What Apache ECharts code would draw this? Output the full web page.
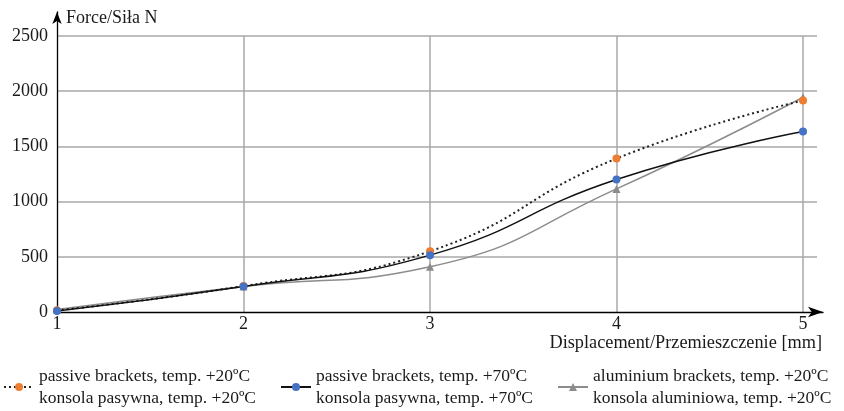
<!DOCTYPE html>
<html><head><meta charset="utf-8">
<script src="https://cdn.jsdelivr.net/npm/echarts@6/dist/echarts.min.js"></script>
<style>html,body{margin:0;padding:0;background:#fff}#c{width:844px;height:411px}</style>
</head><body><div id="c"></div>
<script>
const xValues = [1, 2, 3, 4, 5];
const passive20 = [15, 235, 550, 1390, 1915];
const passive70 = [10, 232, 515, 1200, 1635];
const alu20 = [22, 232, 410, 1115, 1945];
const yTicks = [0, 500, 1000, 1500, 2000, 2500];
const names = [
  'passive brackets, temp. +20ºC\nkonsola pasywna, temp. +20ºC',
  'passive brackets, temp. +70ºC\nkonsola pasywna, temp. +70ºC',
  'aluminium brackets, temp. +20ºC\nkonsola aluminiowa, temp. +20ºC'
];
const FONT = '"Liberation Serif", "DejaVu Serif", serif';
const pairs = a => xValues.map((x, i) => [x, a[i]]);
const chart = echarts.init(document.getElementById('c'));
const legendCommon = {
  orient: 'horizontal', top: 365, padding: 0, itemWidth: 30, itemHeight: 10, itemGap: 0,
  textStyle: {fontFamily: FONT, fontSize: 17.5, color: '#1a1a1a', lineHeight: 22}
};
chart.setOption({
  animation: false,
  textStyle: {fontFamily: FONT},
  title: [
    {text: 'Force/Siła N', left: 61, top: 4, textStyle: {fontFamily: FONT, fontSize: 18, fontWeight: 'normal', color: '#1a1a1a'}},
    {text: 'Displacement/Przemieszczenie [mm]', right: 17, top: 329, textStyle: {fontFamily: FONT, fontSize: 18.3, fontWeight: 'normal', color: '#1a1a1a'}}
  ],
  legend: [
    Object.assign({}, legendCommon, {left: 3, data: [names[0]]}),
    Object.assign({}, legendCommon, {left: 280, data: [names[1]]}),
    Object.assign({}, legendCommon, {left: 557, data: [names[2]]})
  ],
  grid: [
    {left: 57, top: 36, width: 760, height: 276},
    {left: 57, top: 12, width: 766, height: 300}
  ],
  xAxis: [
    {type: 'value', gridIndex: 0, min: 1, max: 1 + 760 / 186.5, interval: 1,
     axisLine: {show: false}, axisTick: {show: false},
     axisLabel: {fontFamily: FONT, fontSize: 18, color: '#1a1a1a', margin: 3, showMaxLabel: false,
       formatter: v => (Math.abs(v - Math.round(v)) < 1e-6 ? String(Math.round(v)) : '')},
     splitLine: {show: true, showMinLine: false, showMaxLine: false, lineStyle: {color: '#a8a8a8', width: 1.5}}},
    {type: 'value', gridIndex: 1, min: 0, max: 1,
     axisLine: {show: true, symbol: ['none', 'arrow'], symbolSize: [8, 15], lineStyle: {color: '#000', width: 1.3}},
     axisTick: {show: false}, axisLabel: {show: false}, splitLine: {show: false}}
  ],
  yAxis: [
    {type: 'value', gridIndex: 0, min: yTicks[0], max: yTicks[yTicks.length - 1], interval: 500,
     axisLine: {show: false}, axisTick: {show: false},
     axisLabel: {fontFamily: FONT, fontSize: 18, color: '#1a1a1a', margin: 9, formatter: v => String(v)},
     splitLine: {show: true, showMinLine: false, lineStyle: {color: '#a8a8a8', width: 1.5}}},
    {type: 'value', gridIndex: 1, min: 0, max: 1,
     axisLine: {show: true, symbol: ['none', 'arrow'], symbolSize: [7, 12], lineStyle: {color: '#000', width: 1.3}},
     axisTick: {show: false}, axisLabel: {show: false}, splitLine: {show: false}}
  ],
  series: [
    {name: names[0], type: 'line', xAxisIndex: 0, yAxisIndex: 0, data: pairs(passive20), smooth: 0.5,
     symbol: 'circle', symbolSize: 8, z: 3,
     itemStyle: {color: '#ED7D31'}, lineStyle: {color: '#222', width: 2, type: [2, 3]}},
    {name: names[1], type: 'line', xAxisIndex: 0, yAxisIndex: 0, data: pairs(passive70), smooth: 0.5,
     symbol: 'circle', symbolSize: 8, z: 4,
     itemStyle: {color: '#4472C4'}, lineStyle: {color: '#111', width: 1.5}},
    {name: names[2], type: 'line', xAxisIndex: 0, yAxisIndex: 0, data: pairs(alu20), smooth: 0.5,
     symbol: 'triangle', symbolSize: 8, z: 2,
     itemStyle: {color: '#8c8c8c'}, lineStyle: {color: '#8c8c8c', width: 1.5}}
  ]
});
</script></body></html>
